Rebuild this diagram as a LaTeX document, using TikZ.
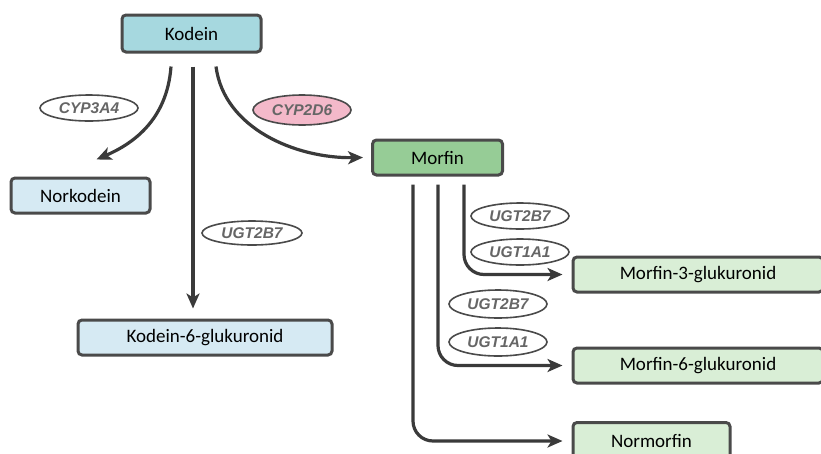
\documentclass[tikz,border=0pt]{standalone}
\usepackage{fontspec}
\setmainfont{Carlito}
\newfontfamily\labfont{Liberation Sans}
\usetikzlibrary{arrows.meta,calc,shapes.geometric}
\definecolor{edge}{HTML}{3A3A3A}
\definecolor{bordr}{HTML}{4A4A4A}
\definecolor{kodfill}{HTML}{A6D8DF}
\definecolor{ltblue}{HTML}{D6EAF3}
\definecolor{morfill}{HTML}{96CC96}
\definecolor{ltgreen}{HTML}{D9EED6}
\definecolor{pinkfill}{HTML}{F4B9CA}
\definecolor{labtext}{HTML}{666666}
\begin{document}
\begin{tikzpicture}[x=1pt,y=-1pt,
  box/.style={draw=bordr,line width=3pt,rounded corners=4pt,minimum height=35pt,inner sep=0pt,font=\fontsize{19}{22}\selectfont,text=black},
  enz/.style={ellipse,draw=bordr,line width=1.6pt,fill=white,inner sep=0pt,minimum width=98pt,minimum height=26pt,font=\labfont\bfseries\itshape\fontsize{15.5}{17}\selectfont,text=labtext},
  conn/.style={draw=edge,line width=3.2pt,-{Stealth[length=15pt,width=13pt,inset=4pt]}}]
\clip (0,0) rectangle (821,453);
\useasboundingbox (0,0) rectangle (821,453);
\fill[white] (0,0) rectangle (821,453);
% boxes
\node[box,fill=kodfill,minimum width=139pt,minimum height=37pt] (kod) at (191.5,33.5) {Kodein};
\node[box,fill=ltblue,minimum width=139pt] (nork) at (80.5,195.5) {Norkodein};
\node[box,fill=ltblue,minimum width=254pt] (k6g) at (205,337.5) {Kodein-6-glukuronid};
\node[box,fill=morfill,minimum width=130pt] (mor) at (437.5,157.5) {Morfin};
\node[box,fill=ltgreen,minimum width=250pt] (m3g) at (698,274.5) {Morfin-3-glukuronid};
\node[box,fill=ltgreen,minimum width=250pt] (m6g) at (698,365.5) {Morfin-6-glukuronid};
\node[box,fill=ltgreen,minimum width=157pt,minimum height=37pt] (nmor) at (651.5,441) {Normorfin};
% start points
\coordinate (k1) at ($(kod.south)+(-20.5,13)$);
\coordinate (k2) at ($(kod.south)+(1.5,13)$);
\coordinate (k3) at ($(kod.south)+(24.5,13)$);
\coordinate (m1) at ($(mor.south)+(-24.5,8)$);
\coordinate (m2) at ($(mor.south)+(0.5,8)$);
\coordinate (m3) at ($(mor.south)+(26.5,8)$);
% connectors
\draw[conn] (k1) .. controls ($(k1)+(-4,55)$) and ($(k1)+(-40,78)$) .. ($(nork.north)+(16,-17)$);
\draw[conn] (k2) -- ($(k2 |- k6g.north)+(0,-10)$);
\draw[conn] (k3) .. controls ($(k3)+(8,62)$) and ($(k3)+(80,92)$) .. ($(mor.west)+(-8,0)$);
\draw[conn] (m3) -- ($(m3 |- m3g.west)+(0,-20)$) arc[start angle=180,end angle=90,radius=20] -- ($(m3g.west)+(-9,0)$);
\draw[conn] (m2) -- ($(m2 |- m6g.west)+(0,-20)$) arc[start angle=180,end angle=90,radius=20] -- ($(m6g.west)+(-9,0)$);
\draw[conn] (m1) -- ($(m1 |- nmor.west)+(0,-20)$) arc[start angle=180,end angle=90,radius=20] -- ($(nmor.west)+(-9,0)$);
% enzymes
\node[enz] (cyp3a4) at (89,108) {CYP3A4};
\node[enz,fill=pinkfill,minimum height=30pt] (cyp2d6) at (302,110) {CYP2D6};
\node[enz,minimum width=100pt,minimum height=24pt] (ugtk) at (252,233) {UGT2B7};
\node[enz,minimum width=98pt,minimum height=26pt] (ugta) at (520,216) {UGT2B7};
\node[enz,minimum width=98pt,minimum height=26pt] (ugtb) at (520,252) {UGT1A1};
\node[enz,minimum width=98pt,minimum height=28pt] (ugtc) at (498,304) {UGT2B7};
\node[enz,minimum width=98pt,minimum height=28pt] (ugtd) at (498,342) {UGT1A1};
\end{tikzpicture}
\end{document}
